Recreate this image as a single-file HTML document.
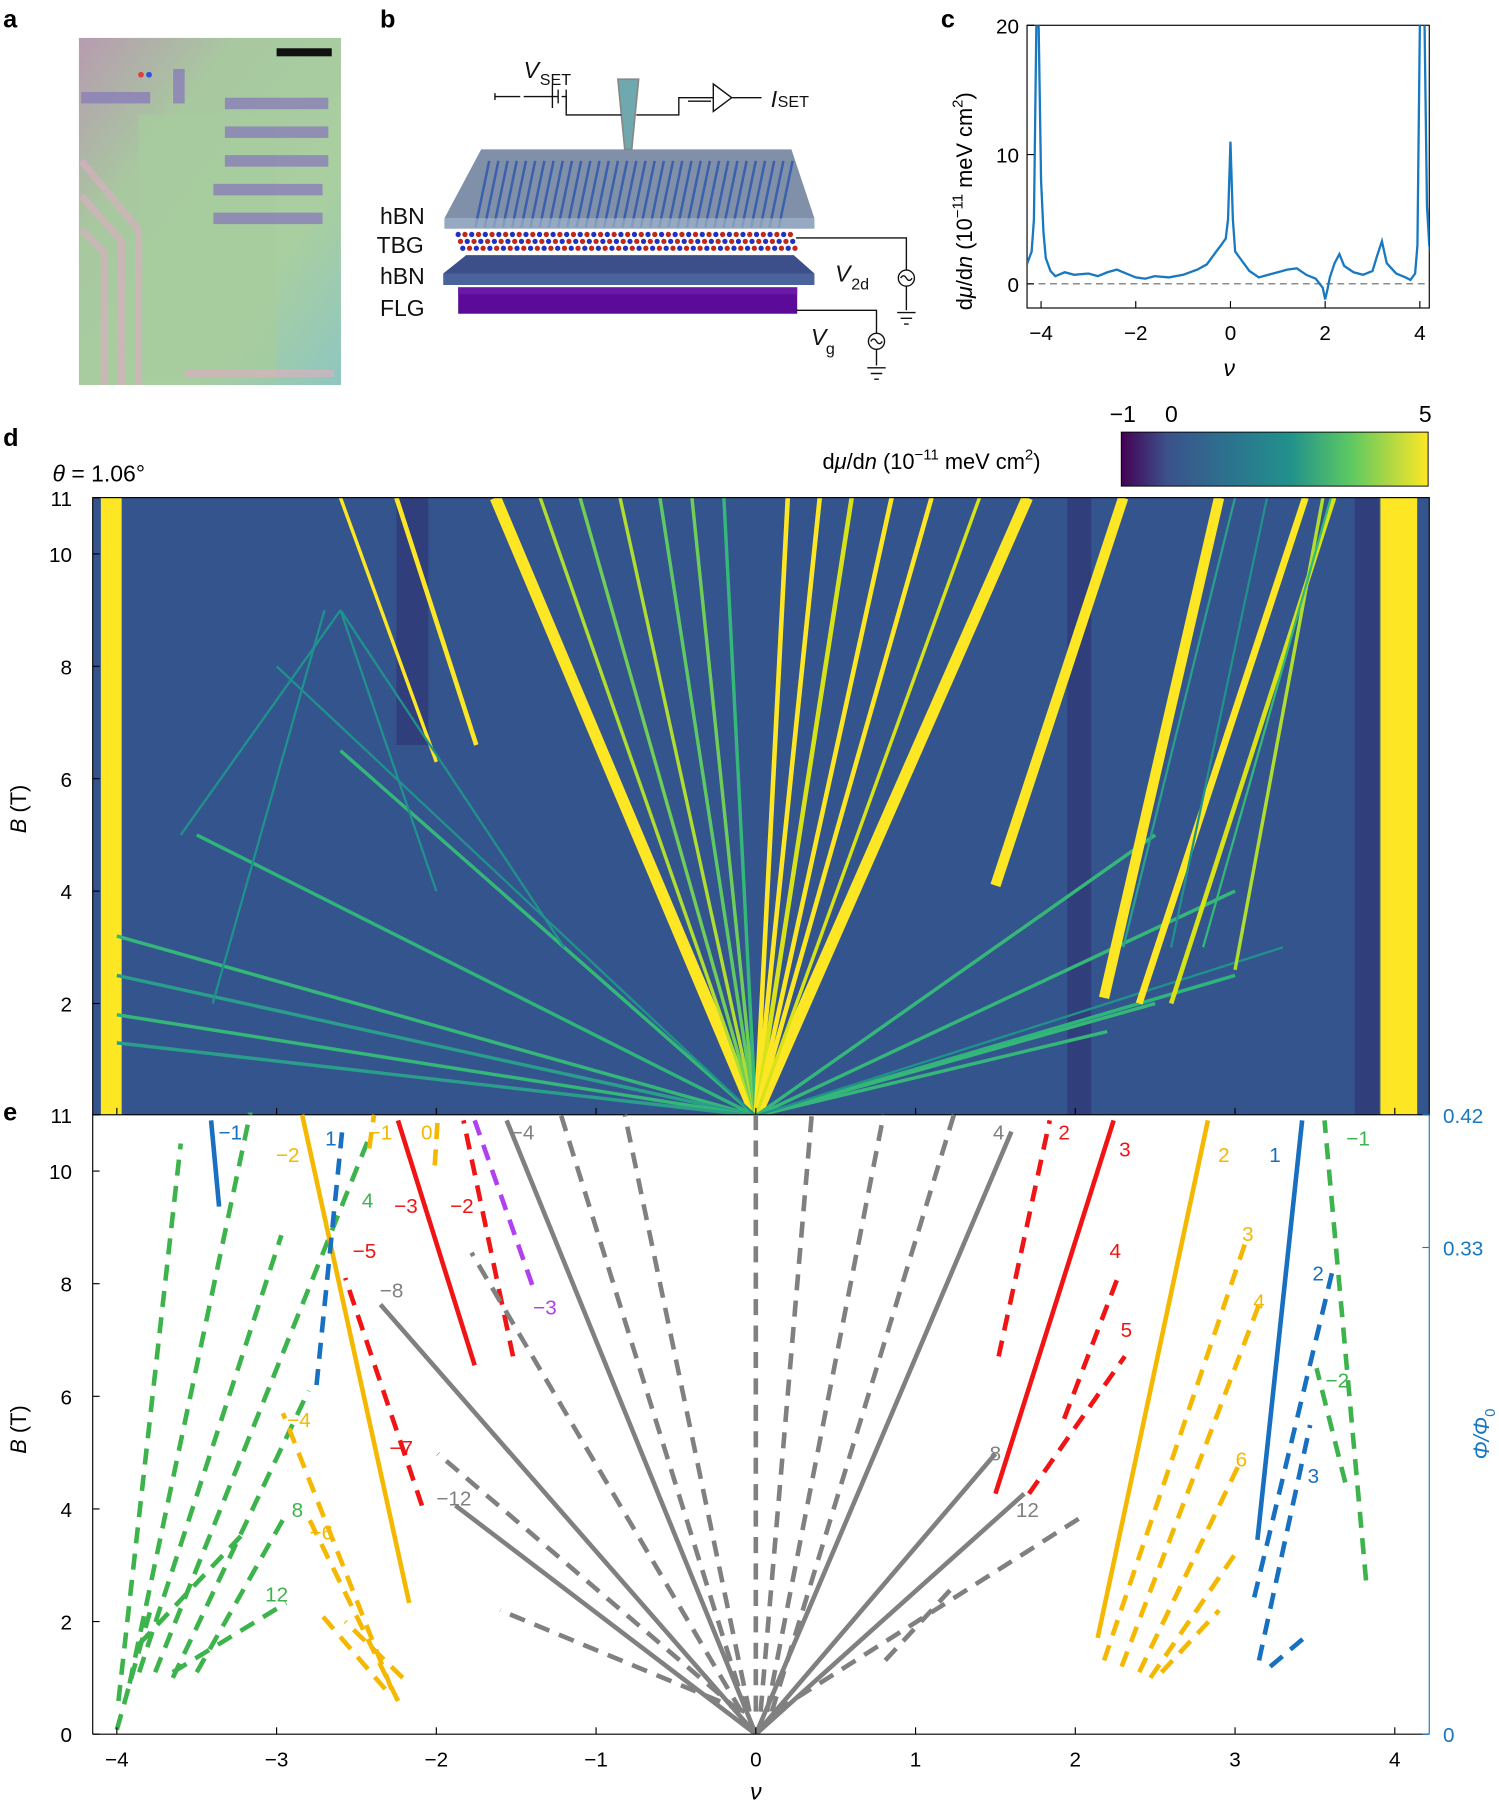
<!DOCTYPE html>
<html><head><meta charset="utf-8"><style>
html,body{margin:0;padding:0;background:#fff;}
svg{display:block;font-family:"Liberation Sans",sans-serif;}
</style></head><body>
<svg id="fig" width="1499" height="1802" viewBox="0 0 1303 1568" xmlns="http://www.w3.org/2000/svg">
<defs>
<linearGradient id="vir" x1="0" x2="1" y1="0" y2="0">
<stop offset="0" stop-color="#440154"/><stop offset="0.15" stop-color="#3b528b"/><stop offset="0.35" stop-color="#2c728e"/><stop offset="0.55" stop-color="#21918c"/><stop offset="0.75" stop-color="#5ec962"/><stop offset="1" stop-color="#fde725"/>
</linearGradient>
<linearGradient id="photo" x1="0" x2="1" y1="0" y2="1">
<stop offset="0" stop-color="#b79bb0"/><stop offset="0.3" stop-color="#a8c8a0"/><stop offset="0.7" stop-color="#a9cfa0"/><stop offset="1" stop-color="#8ec6c0"/>
</linearGradient>
<radialGradient id="glow" cx="0.5" cy="1" r="0.5"><stop offset="0" stop-color="#8fd36a" stop-opacity="0.9"/><stop offset="1" stop-color="#2f6f8f" stop-opacity="0"/></radialGradient>
<clipPath id="clipD"><rect x="80" y="433" width="1163" height="537"/></clipPath>
<clipPath id="clipC"><rect x="893" y="22" width="350" height="246"/></clipPath>
<clipPath id="clipE"><rect x="80" y="968" width="1163" height="541"/></clipPath>
</defs>

<g font-weight="bold" font-size="22">
<text x="2" y="24">a</text><text x="330" y="24">b</text><text x="818" y="24">c</text><text x="2" y="388">d</text><text x="2" y="975">e</text>
</g>

<g>
<rect x="68" y="33" width="228" height="302" fill="url(#photo)"/>
<rect x="120" y="100" width="120" height="230" fill="#a6cc9c" opacity="0.7"/>
<g fill="#8a7fb8" opacity="0.8">
<rect x="195" y="85" width="90" height="10"/><rect x="195" y="110" width="90" height="10"/><rect x="195" y="135" width="90" height="10"/><rect x="185" y="160" width="95" height="10"/><rect x="185" y="185" width="95" height="10"/>
<rect x="70" y="80" width="60" height="10"/><rect x="150" y="60" width="10" height="30"/>
</g>
<g stroke="#d8b0c0" stroke-width="6" fill="none" opacity="0.7">
<path d="M70 140 L120 200 L120 335"/><path d="M70 170 L105 210 L105 335"/><path d="M70 200 L90 220 L90 335"/><path d="M160 325 L290 325"/>
</g>
<rect x="240" y="42" width="48" height="7" fill="#111"/>
<circle cx="122" cy="65" r="2.5" fill="#e04040"/><circle cx="129" cy="65" r="2.5" fill="#3050e0"/>
</g>

<g>
<polygon points="418,130 688,130 708,190 386,190" fill="#7f90a8"/>
<g stroke="#2f58b0" stroke-width="2.2" opacity="0.85" id="atomsTop"></g>
<rect x="386" y="190" width="322" height="9" fill="#8aa0bb" opacity="0.9"/>
<g id="tbgDots"></g>
<polygon points="405,222 690,222 708,238 385,238" fill="#3d4f8a"/>
<rect x="385" y="238" width="323" height="10" fill="#4a639a"/>
<rect x="398" y="250" width="295" height="23" fill="#5c0b98"/>
<rect x="398" y="250" width="295" height="6" fill="#6a1aa8"/>
<polygon points="537,69 555,69 549,130 543,130" fill="#6fa8ae" stroke="#888" stroke-width="1.5"/>
<g stroke="#111" stroke-width="1.2" fill="none">
<path d="M492 78 L492 100 L540 100"/><path d="M553 100 L590 100 L590 85 L620 85"/><path d="M620 73 L620 97 L636 85 Z"/><path d="M636 85 L662 85"/>
<path d="M598 88 L618 88"/><path d="M455 84 L485 84 M485 78 L485 90 M480 74 L480 94 M430 84 L452 84 M430 81 L430 87"/><path d="M488 84 L492 84 L492 95"/>
<path d="M692 207 L788 207 L788 235"/><circle cx="788" cy="242" r="7"/><path d="M788 249 L788 270 M780 272 L796 272 M783 277 L793 277 M786 282 L790 282"/>
<path d="M692 270 L762 270 L762 290"/><circle cx="762" cy="297" r="7"/><path d="M762 304 L762 318 M754 320 L770 320 M757 325 L767 325 M760 330 L764 330"/>
<path d="M783 242 q2.5 -4 5 0 t5 0"/><path d="M757 297 q2.5 -4 5 0 t5 0"/>
</g>
<g font-size="20" fill="#111">
<text x="330" y="195">hBN</text><text x="327" y="220">TBG</text><text x="330" y="247">hBN</text><text x="330" y="275">FLG</text>
<text x="455" y="68" font-style="italic">V</text><text x="469" y="74" font-size="14">SET</text>
<text x="670" y="93" font-style="italic">I</text><text x="676" y="93" font-size="14">SET</text>
<text x="726" y="245" font-style="italic">V</text><text x="740" y="252" font-size="14">2d</text>
<text x="705" y="300" font-style="italic">V</text><text x="718" y="308" font-size="14">g</text>
</g>
</g>

<g>
<rect x="893" y="22" width="350" height="246" fill="none" stroke="#000" stroke-width="1"/>
<line x1="893" y1="247" x2="1243" y2="247" stroke="#666" stroke-dasharray="6,4"/>
<path id="cLine" fill="none" stroke="#1878c0" stroke-width="2" clip-path="url(#clipC)"/>
<g id="cTicks" font-size="18"></g>
<text x="1064" y="327" font-size="20" font-style="italic">ν</text>
<text transform="translate(845,270) rotate(-90)" font-size="19">d<tspan font-style="italic">μ</tspan>/d<tspan font-style="italic">n</tspan> (10<tspan dy="-8" font-size="13">−11</tspan><tspan dy="8"> meV cm</tspan><tspan dy="-8" font-size="13">2</tspan><tspan dy="8">)</tspan></text>
</g>

<g>
<rect x="975" y="376" width="267" height="47" fill="url(#vir)" stroke="#000" stroke-width="0.8"/>
<text x="965" y="367" font-size="20">−1</text><text x="1013" y="367" font-size="20">0</text><text x="1234" y="367" font-size="20">5</text>
<text x="715" y="408" font-size="19">d<tspan font-style="italic">μ</tspan>/d<tspan font-style="italic">n</tspan> (10<tspan dy="-8" font-size="13">−11</tspan><tspan dy="8"> meV cm</tspan><tspan dy="-8" font-size="13">2</tspan><tspan dy="8">)</tspan></text>
</g>
<text x="45" y="419" font-size="20"><tspan font-style="italic">θ</tspan> = 1.06°</text>

<g>
<rect x="80" y="433" width="1163" height="537" fill="#34548e"/>
<g id="dMarks" clip-path="url(#clipD)"></g>
<rect x="80" y="433" width="1163" height="537" fill="none" stroke="#000" stroke-width="1"/>
<g id="dTicks" font-size="18"></g>
<text transform="translate(22,725) rotate(-90)" font-size="19"><tspan font-style="italic">B</tspan> (T)</text>
</g>

<g>
<g id="eMarks" clip-path="url(#clipE)"></g>
<line x1="80" y1="1509" x2="1243" y2="1509" stroke="#000"/>
<line x1="80" y1="970" x2="80" y2="1509" stroke="#000"/>
<line x1="1243" y1="970" x2="1243" y2="1509" stroke="#1878c0"/>
<g id="eTicks" font-size="18"></g>
<g id="eLabels" font-size="18"></g>
<text transform="translate(22,1265) rotate(-90)" font-size="19"><tspan font-style="italic">B</tspan> (T)</text>
<text x="652" y="1566" font-size="20" font-style="italic">ν</text>
<text transform="translate(1295,1270) rotate(-90)" font-size="19" fill="#1878c0" font-style="italic">Φ/Φ<tspan font-size="13" dy="5" font-style="normal">0</tspan></text>
</g>

<script>
const NS='http://www.w3.org/2000/svg';
function mk(tag,attrs,parent){const e=document.createElementNS(NS,tag);for(const k in attrs)e.setAttribute(k,attrs[k]);parent.appendChild(e);return e;}

// ===== panel c data =====
const cNu=[-4.3,-4.2,-4.15,-4.1,-4.08,-4.05,-4.0,-3.95,-3.9,-3.8,-3.7,-3.5,-3.3,-3.0,-2.8,-2.6,-2.4,-2.2,-2.0,-1.8,-1.6,-1.3,-1.0,-0.7,-0.5,-0.3,-0.2,-0.1,-0.05,0,0.05,0.1,0.2,0.4,0.6,0.8,1.0,1.2,1.4,1.6,1.8,1.95,2.0,2.05,2.1,2.2,2.3,2.4,2.6,2.8,3.0,3.1,3.2,3.3,3.5,3.7,3.8,3.9,3.95,4.0,4.05,4.1,4.15,4.2,4.25];
const cVal=[1.5,2.5,5,20,22,20,8,4,2,1,0.6,0.9,0.7,0.8,0.6,0.9,1.1,0.8,0.5,0.4,0.6,0.5,0.7,1.1,1.5,2.5,3.0,3.5,5,11,5,2.5,2.0,1.0,0.5,0.7,0.9,1.1,1.2,0.7,0.4,-0.3,-1.2,-0.4,0.5,1.6,2.3,1.4,0.9,0.7,1.0,2.2,3.3,1.6,0.8,0.5,0.3,0.8,3,20,22,20,6,3,2];
const cXTicks=[-4,-2,0,2,4];
const cYTicks=[0,10,20];

// ===== panel d data (start nu, start B, end nu, end B) =====
const dNu0=[0,0,0,0,0,0,0,0,0,0,0,0,0,0,0,0,0,0,0,0,0,0,0,0,0,0,0,-1.75,-2.0,1.5,2.18,2.4,2.6,3.0,-2.7,-2.6,-2.6,-2.6,2.3,2.6,2.8];
const dB0=[0,0,0,0,0,0,0,0,0,0,0,0,0,0,0,0,0,0,0,0,0,0,0,0,0,0,0,6.6,6.3,4.1,2.1,2.0,2.0,2.6,9.0,9.0,9.0,9.0,3.0,3.0,3.0];
const dNu1=[-1.63,1.70,-1.35,-1.1,-0.85,-0.6,-0.4,-0.2,0.2,0.4,0.6,0.85,1.1,1.4,-2.6,-3.5,-4.0,-4.0,-4.0,-4.0,2.5,3.0,3.0,2.5,2.2,-3.0,3.3,-2.25,-2.6,2.3,2.9,3.44,3.62,3.55,-3.4,-2.0,-3.6,-1.2,3.0,3.2,3.6];
const dB1=[11,11,11,11,11,11,11,11,11,11,11,11,11,11,6.5,5,3.2,2.5,1.8,1.3,5,4,2.5,2,1.5,8,3,11,11,11,11,11,11,11,2,4,5,3,11,11,11];
const dW=[10,10,3,3,3,3,3,3,4,4,4,4,4,3,3,3,3,3,3,3,3,3,3,3,3,2,2,4,3,9,9,6,4,3,2,2,2,2,2,2,2];
const dCol=['#fde725','#fde725','#b0dd2f','#6ece58','#b0dd2f','#5ec962','#6ece58','#35b779','#fde725','#fde725','#d8e219','#fde725','#fde725','#d8e219','#35b779','#2fb47c','#35b779','#2a9e8b','#35b779','#2a9e8b','#35b779','#35b779','#2fb47c','#35b779','#35b779','#21918c','#21918c','#fde725','#fde725','#fde725','#fde725','#fde725','#d8e219','#b0dd2f','#21918c','#21918c','#21918c','#21918c','#2a9e8b','#21918c','#35b779'];

// ===== panel e data: segment endpoints in (nu, B) =====
const eNuA=[-3.99,-3.92,-3.86,-3.76,-3.65,-3.50,-4.0,-3.86,-3.65,3.82,3.69,
 -2.17,-2.01,-2.42,-2.28,-2.24,-2.32,-2.21,2.14,2.18,2.29,2.40,2.47,2.54,
 -3.36,-2.75,3.14,3.12,3.15,3.22,
 -1.76,-1.52,-2.09,1.50,1.52,1.93,1.71,
 -1.40,
 0,0,0,0,0,0,
 -0.06,-0.04,0,0.03,0.07,0.10,-0.10,-0.09,-0.07,0.12,0.81];
const eBA=[0.59,0.9,1.1,1.1,1.0,1.1,0.08,1.6,1.1,2.73,4.47,
 2.33,10.1,10.4,0.8,0.59,0.8,1.0,1.71,1.31,1.2,1.1,1.0,1.1,
 9.37,6.2,3.45,2.43,1.31,1.2,
 6.55,6.71,4.06,4.27,6.71,5.6,4.27,
 7.98,
 0,0,0,0,0,0,
 0.4,0.4,0.4,0.4,0.4,0.4,0.4,0.4,0.4,0.4,1.31];
const eNuB=[-3.60,-3.16,-2.97,-2.42,-2.80,-2.93,-3.79,-3.18,-2.94,3.56,3.51,
 -2.84,-1.99,-2.39,-2.96,-2.82,-2.75,-2.57,2.83,3.08,3.15,3.04,3.01,2.90,
 -3.41,-2.59,3.42,3.62,3.47,3.47,
 -2.24,-1.83,-2.57,2.24,1.84,2.27,2.31,
 -1.76,
 -1.56,-2.35,-1.88,1.60,1.50,1.68,
 -1.22,-0.82,0,0.35,0.80,1.24,-1.99,-1.78,-1.60,2.04,1.24];
const eBB=[10.49,11.1,8.86,10.6,6.1,3.96,2.2,3.65,2.33,10.9,6.5,
 11,11,11,5.7,3.96,2.22,2.0,10.9,8.86,7.63,4.88,3.24,2.2,
 10.9,10.7,10.9,8.35,5.49,1.8,
 10.9,10.9,8.1,10.9,10.9,8.14,6.71,
 10.9,
 10.9,7.63,4.06,10.7,4.98,4.27,
 11,11,11,11,11,11,4.98,8.55,2.2,3.86,2.63];
const eKind=['g','g','g','g','g','g','g','g','g','g','g',
 'o','o','o','o','o','o','o','o','o','o','o','o','o',
 'b','b','b','b','b','b',
 'r','r','r','r','r','r','r',
 'p',
 'k','k','k','k','k','k',
 'k','k','k','k','k','k','k','k','k','k','k'];
const eDash=[1,1,1,1,1,1,1,1,1,1,1,
 0,1,1,1,1,1,1,0,1,1,1,1,1,
 0,1,0,1,1,1,
 0,1,1,0,1,1,1,
 1,
 0,0,0,0,0,0,
 1,1,1,1,1,1,1,1,1,1,1];
const eLabelText=['4','8','12','−1','−2','−2','−1','0','−4','−6','2','3','4','6','−1','1','1','2','3','−3','−2','−5','−7','2','3','4','5','−3','−4','−8','−12','4','8','12'];
const eLabelKind=['g','g','g','g','g','o','o','o','o','o','o','o','o','o','b','b','b','b','b','r','r','r','r','r','r','r','r','p','k','k','k','k','k','k'];
const eLabelNu=[-2.43,-2.87,-3.0,3.77,3.64,-2.93,-2.35,-2.06,-2.86,-2.72,2.93,3.08,3.15,3.04,-3.29,-2.66,3.25,3.52,3.49,-2.19,-1.84,-2.45,-2.22,1.93,2.31,2.25,2.32,-1.32,-1.46,-2.28,-1.89,1.52,1.50,1.70];
const eLabelB=[9.5,4.0,2.5,10.6,6.3,10.3,10.7,10.7,5.6,3.6,10.3,8.9,7.7,4.9,10.7,10.6,10.3,8.2,4.6,9.4,9.4,8.6,5.1,10.7,10.4,8.6,7.2,7.6,10.7,7.9,4.2,10.7,5.0,4.0];
const eXTicks=[-4,-3,-2,-1,0,1,2,3,4];
const eYTicks=[0,2,4,6,8,10,11];
const eRTicks=[0,0.33,0.42];

// schematic atoms
const at=document.getElementById('atomsTop');
for(let i=0;i<34;i++){const x=425+i*8;
const l=mk('line',{x1:x,y1:140,x2:x-12,y2:198},at);

}
const td=document.getElementById('tbgDots');
for(let r=0;r<3;r++)for(let i=0;i<50;i++){
const c=mk('circle',{cx:398+i*5.9+r*2,cy:204+r*6,r:2.3,fill:(i+r)%2?'#c02818':'#2030c0'},td);

}

// panel c draw
const cx=v=>1070+41.2*v, cy=v=>247-11.25*v;
document.getElementById('cLine').setAttribute('d',cNu.map((v,i)=>(i?'L':'M')+cx(v).toFixed(1)+' '+cy(cVal[i]).toFixed(1)).join(''));
const ct=document.getElementById('cTicks');
cXTicks.forEach(t=>{mk('line',{x1:cx(t),y1:268,x2:cx(t),y2:262,stroke:'#000'},ct);
const tx=mk('text',{x:cx(t),y:296,'text-anchor':'middle'},ct);tx.textContent=(t<0?'−':'')+Math.abs(t);

});
cYTicks.forEach(t=>{mk('line',{x1:893,y1:cy(t),x2:899,y2:cy(t),stroke:'#000'},ct);
const tx=mk('text',{x:886,y:cy(t)+7,'text-anchor':'end'},ct);tx.textContent=t;

});

// panel d draw
const dx=v=>657+139*v, dy=b=>971-48.9*b;
const dm=document.getElementById('dMarks');
[[-2.25,-2.05,6.6,11],[1.95,2.1,0,11],[3.75,3.9,0,11]].forEach(s=>{
const r=mk('rect',{x:dx(s[0]),y:dy(s[3]),width:dx(s[1])-dx(s[0]),height:dy(s[2])-dy(s[3]),fill:'#2a2060',opacity:0.4},dm);

});
const g=mk('ellipse',{cx:dx(0),cy:dy(0),rx:200,ry:90,fill:'url(#glow)'},dm);


[[-4.1,-3.97],[3.91,4.14]].forEach(s=>{
const r=mk('rect',{x:dx(s[0]),y:433,width:dx(s[1])-dx(s[0]),height:540,fill:'#fde725'},dm);

});
dNu0.forEach((n,i)=>{
const l=mk('line',{x1:dx(n),y1:dy(dB0[i]),x2:dx(dNu1[i]),y2:dy(dB1[i]),stroke:dCol[i],'stroke-width':dW[i]},dm);

});
const dt=document.getElementById('dTicks');
eXTicks.forEach(t=>{mk('line',{x1:dx(t),y1:970,x2:dx(t),y2:964,stroke:'#000'},dt);});
eYTicks.filter(t=>t>0).forEach(t=>{mk('line',{x1:80,y1:dy(t),x2:86,y2:dy(t),stroke:'#000'},dt);
const tx=mk('text',{x:62,y:dy(t)+7,'text-anchor':'end'},dt);tx.textContent=t;

});

// panel e draw
const ex=v=>657+139*v, ey=b=>1509-49*b;
const COL={g:'#3cb44b',o:'#f5b800',b:'#1870c0',r:'#f01414',p:'#b040f0',k:'#808080'};
const em=document.getElementById('eMarks');
eNuA.forEach((n,i)=>{
const a={x1:ex(n),y1:ey(eBA[i]),x2:ex(eNuB[i]),y2:ey(eBB[i]),stroke:COL[eKind[i]],'stroke-width':4};
if(eDash[i])a['stroke-dasharray']='14,9';
const l=mk('line',a,em);

});
const el=document.getElementById('eLabels');
eLabelText.forEach((s,i)=>{
const tx=mk('text',{x:ex(eLabelNu[i]),y:ey(eLabelB[i])+7,'text-anchor':'middle',fill:COL[eLabelKind[i]]},el);
tx.textContent=s;

});
const et=document.getElementById('eTicks');
eXTicks.forEach(t=>{mk('line',{x1:ex(t),y1:1509,x2:ex(t),y2:1503,stroke:'#000'},et);
const tx=mk('text',{x:ex(t),y:1537,'text-anchor':'middle'},et);tx.textContent=(t<0?'−':'')+Math.abs(t);

});
eYTicks.forEach(t=>{mk('line',{x1:80,y1:ey(t),x2:86,y2:ey(t),stroke:'#000'},et);
const tx=mk('text',{x:62,y:ey(t)+7,'text-anchor':'end'},et);tx.textContent=t;

});
eRTicks.forEach(t=>{const yy=ey(t*11/0.42);
mk('line',{x1:1243,y1:yy,x2:1237,y2:yy,stroke:'#1878c0'},et);
const tx=mk('text',{x:1255,y:yy+7,fill:'#1878c0'},et);tx.textContent=t===0?'0':t.toFixed(2);

});
</script>
</svg>
</body></html>
